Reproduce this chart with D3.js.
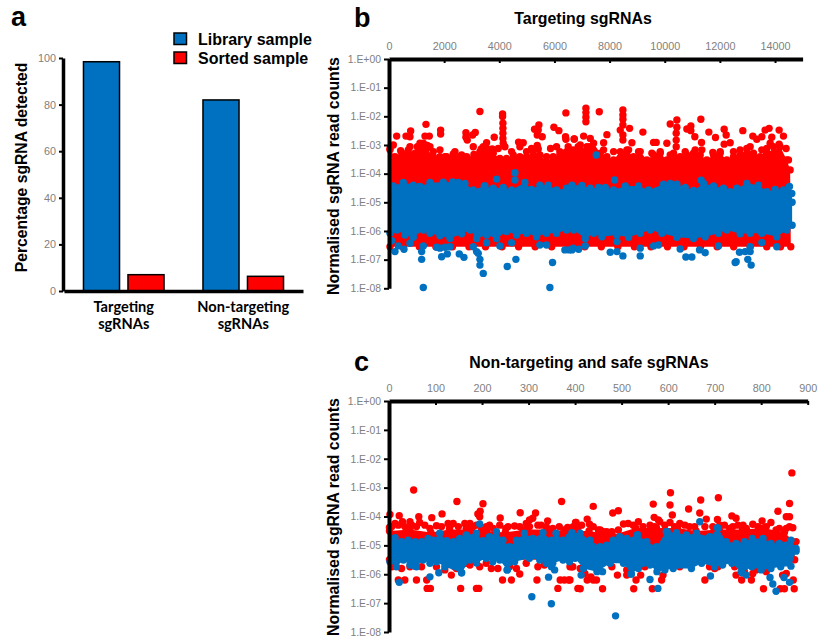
<!DOCTYPE html>
<html>
<head>
<meta charset="utf-8">
<script src="https://cdn.jsdelivr.net/npm/d3@7"></script>
<style>
	html, body { margin: 0; padding: 0; background: #fff; }
	svg { display: block; }
	text { font-family: "Liberation Sans", Arial, sans-serif; }
	.tick text { fill: #808080; }
</style>
</head>
<body>
<div id="chart"></div>
<script>
// panel a
var categories = ["Targeting sgRNAs", "Non-targeting sgRNAs"];
var seriesNames = ["Library sample", "Sorted sample"];
var libraryValues = [98.4, 82];
var sortedValues = [7, 6.3];
var percentTicks = [0, 20, 40, 60, 80, 100];

// panels b and c: every pair is [sgRNA index, log10 of normalised read count]
// the solid part of each cloud is kept as its upper and lower outline
var bRedTop = [[36,-3.17],[217,-3.41],[459,-3.29],[701,-3.17],[942,-3.29],[1123,-3.12],[1365,-3.12],[1607,-3.41],[1848,-3.41],[2090,-3.41],[2331,-3.31],[2573,-3.41],[2815,-3.41],[3056,-3.47],[3298,-3.23],[3539,-3.12],[3781,-3.29],[4023,-3.47],[4264,-3.47],[4506,-3.35],[4747,-3.41],[4989,-3.41],[5231,-3.23],[5472,-3.35],[5714,-3.58],[5955,-3.41],[6197,-3.35],[6439,-3.23],[6680,-3.17],[6937,-3.17],[7179,-3.06],[7420,-2.94],[7662,-3.29],[7903,-3.41],[8145,-3.52],[8387,-3.23],[8628,-3.17],[8870,-3.41],[9111,-3.23],[9353,-3.52],[9595,-3.35],[9836,-3.29],[10078,-3.52],[10319,-3.29],[10561,-3.41],[10803,-3.35],[11044,-3.29],[11286,-3.35],[11527,-3.52],[11769,-3.35],[12011,-3.29],[12252,-3.52],[12494,-3.41],[12735,-3.35],[12977,-3.12],[13219,-3.29],[13460,-3.41],[13702,-3.12],[13944,-3.29],[14185,-3.06],[14427,-3.52],[14548,-3.87]];
var bRedBottom = [[14572,-6.55],[14200,-6.55],[13700,-6.55],[13100,-6.55],[12500,-6.55],[11900,-6.55],[11300,-6.55],[10700,-6.55],[10100,-6.55],[9500,-6.55],[8900,-6.55],[8300,-6.55],[7700,-6.55],[7100,-6.55],[6500,-6.55],[5900,-6.55],[5300,-6.55],[4700,-6.55],[4100,-6.55],[3500,-6.55],[2900,-6.55],[2300,-6.55],[1700,-6.55],[1100,-6.55],[500,-6.55],[36,-6.55]];
var bRedSpots = [[3298,-1.83],[4119,-1.92],[4119,-2.01],[4131,-2.24],[4131,-2.42],[4131,-2.59],[4131,-2.77],[4143,-2.94],[6415,-1.88],[1341,-2.28],[278,-2.69],[785,-2.51],[616,-2.69],[761,-2.71],[1462,-2.69],[1305,-2.69],[1872,-2.48],[1872,-2.62],[2790,-2.57],[3129,-2.56],[3032,-2.65],[2790,-2.73],[2839,-2.83],[3817,-2.73],[5279,-2.45],[5436,-2.30],[5412,-2.48],[5376,-2.65],[5557,-2.71],[5980,-2.38],[6161,-2.5],[6402,-2.71],[6415,-2.8],[6716,-2.79],[3539,-2.92],[3346,-3.14],[3745,-3.14],[3080,-3.33],[4699,-2.9],[4868,-2.92],[5376,-3.02],[5412,-3.14],[5859,-3.12],[6076,-3.06],[761,-3.06],[36,-3.12],[157,-3.0],[423,-3.2],[1389,-3.02],[1244,-2.94],[1123,-2.94],[1486,-3.06],[7142,-1.72],[7142,-1.87],[7142,-2.03],[7142,-2.19],[7626,-1.84],[8483,-1.78],[8483,-1.95],[8483,-2.10],[8387,-2.48],[8725,-2.42],[8483,-2.30],[8483,-2.65],[8483,-2.83],[9208,-2.55],[7903,-2.64],[7058,-2.69],[6720,-2.79],[7299,-2.77],[7783,-2.92],[8809,-2.92],[9595,-2.91],[9691,-2.91],[10078,-2.94],[10199,-2.27],[10440,-2.13],[10440,-2.38],[10416,-2.59],[10416,-2.83],[10416,-3.06],[10803,-2.44],[10948,-2.34],[10948,-2.5],[11310,-2.1],[11092,-2.71],[11334,-2.91],[11600,-2.55],[11841,-2.74],[12156,-2.45],[12228,-2.65],[12156,-2.97],[12373,-2.92],[12832,-2.5],[13194,-2.69],[13339,-2.8],[13521,-2.71],[13641,-2.48],[13786,-2.42],[13883,-2.73],[14149,-2.48],[14306,-2.69],[14149,-2.97],[14402,-3.12],[13823,-2.94],[11745,-3.26],[12011,-3.23],
	[544,-3.31],[978,-3.35],[1027,-3.06],[1607,-3.23],[1848,-3.17],[2029,-3.41],[2392,-3.23],[2633,-3.35],[3056,-3.06],[3419,-3.06],[3636,-3.17],[3962,-3.12],[4204,-3.06],[4445,-3.23],[4747,-3.06],[4989,-3.23],[5170,-3.12],[5714,-3.41],[6197,-3.23],[6499,-3.06],[6861,-3.06],[6937,-3.0],[7299,-3.06],[7783,-3.17],[8145,-3.23],[8689,-3.17],[9051,-3.23],[9534,-3.29],[9836,-3.23],[10199,-3.35],[10742,-3.23],[11105,-3.17],[11346,-3.17],[12494,-3.23],[12735,-3.17],[13098,-3.06],[13521,-3.17],[13944,-3.06],[14125,-3.23],[14487,-3.52]];
var bBlueTop = [[97,-4.57],[157,-4.43],[519,-4.31],[882,-4.40],[1123,-4.45],[1486,-4.31],[1969,-4.30],[2307,-4.29],[2513,-4.31],[2754,-4.34],[3056,-4.57],[3455,-4.43],[3781,-4.51],[4143,-4.48],[4445,-4.57],[4929,-4.31],[5170,-4.55],[5472,-4.40],[5774,-4.40],[6076,-4.57],[6439,-4.51],[6635,-4.40],[6997,-4.41],[7299,-4.51],[7601,-4.48],[7843,-4.48],[8145,-4.57],[8568,-4.43],[9051,-4.43],[9413,-4.57],[9957,-4.37],[10199,-4.34],[10440,-4.37],[10742,-4.48],[11044,-4.59],[11407,-4.34],[11769,-4.43],[12131,-4.51],[12373,-4.63],[12615,-4.51],[12977,-4.34],[13400,-4.40],[13702,-4.63],[14004,-4.55],[14306,-4.57],[14523,-4.45],[14608,-4.69]];
var bBlueBottom = [[14620,-5.0],[14620,-5.8],[14427,-5.97],[14064,-6.2],[13521,-6.08],[13098,-6.08],[12735,-6.10],[12252,-5.97],[11950,-6.08],[11467,-6.2],[11044,-6.26],[10440,-6.22],[9897,-6.08],[9474,-5.97],[9111,-6.08],[8689,-6.22],[8266,-6.14],[7722,-6.2],[7420,-6.08],[7118,-6.26],[6695,-5.97],[6439,-5.97],[6076,-6.08],[5714,-6.08],[5352,-6.2],[4989,-6.08],[4627,-6.14],[4264,-6.02],[3902,-6.26],[3539,-6.14],[3177,-6.26],[2935,-5.97],[2633,-6.10],[2211,-6.26],[1848,-6.17],[1486,-6.08],[1244,-5.97],[882,-6.22],[580,-6.14],[278,-5.97],[36,-6.08]];
var bBlueSpots = [[97,-6.34],[217,-6.72],[544,-6.64],[761,-6.43],[338,-6.52],[1184,-6.72],[1244,-6.52],[1184,-6.99],[1909,-6.90],[2114,-6.80],[2029,-6.57],[1848,-6.60],[2549,-6.80],[2718,-6.92],[3056,-6.55],[3237,-6.78],[3298,-6.99],[3298,-7.19],[3419,-7.48],[3177,-6.72],[4288,-7.24],[4602,-6.99],[1244,-7.97],[5835,-7.97],[5931,-7.10],[6378,-6.66],[6535,-6.66],[6680,-6.60],[5714,-6.49],[5472,-6.49],[4023,-6.52],[4445,-6.41],[3539,-6.41],[2211,-6.55],[1727,-6.57],[4566,-3.97],[3902,-4.19],[4566,-4.22],[3479,-4.43],[8024,-6.74],[8266,-6.72],[8483,-6.87],[9111,-6.87],[9111,-6.6],[10561,-6.63],[10766,-6.91],[10984,-6.91],[11262,-6.66],[11467,-6.76],[12554,-7.10],[12590,-7.07],[12711,-6.74],[12917,-6.72],[13098,-6.55],[13098,-6.72],[13013,-6.99],[13134,-7.19],[14064,-6.55],[9595,-6.52],[9776,-6.49],[6877,-6.64],[6635,-6.66],[8266,-6.37],[7118,-6.52],[11950,-6.52],[13521,-6.40],[7517,-3.35],[8181,-4.22],[11322,-4.23]];

var cRedTop = [[1,-4.5],[45,-4.45],[90,-4.55],[130,-4.45],[175,-4.45],[210,-4.5],[250,-4.55],[295,-4.45],[340,-4.45],[385,-4.5],[430,-4.5],[480,-4.65],[530,-4.4],[575,-4.4],[620,-4.4],[660,-4.5],[710,-4.45],[760,-4.45],[805,-4.4],[850,-4.55],[872,-4.9]];
var cRedBottom = [[872,-5.5],[1,-5.5]];
var cRedSpots = [[53,-3.08],[146,-3.48],[202,-3.56],[2,-3.93],[22,-3.97],[64,-4.01],[92,-4.04],[114,-3.91],[195,-4.01],[196,-3.82],[191,-3.91],[239,-4.05],[282,-3.87],[315,-3.88],[45,-4.18],[29,-4.18],[13,-4.24],[66,-4.21],[102,-4.32],[138,-4.24],[163,-4.24],[174,-4.24],[188,-4.30],[209,-4.35],[224,-4.41],[251,-4.41],[270,-4.33],[295,-4.24],[302,-4.12],[309,-4.06],[327,-4.30],[341,-4.15],[366,-4.35],[384,-4.38],[401,-4.21],[371,-3.48],[1,-4.38],
	[20,-6.2],[34,-6.2],[59,-6.2],[81,-6.2],[82,-6.49],[89,-6.49],[154,-6.49],[188,-6.49],[193,-6.49],[134,-6.03],[145,-5.8],[165,-5.62],[220,-5.8],[234,-5.8],[244,-6.2],[263,-6.2],[274,-5.8],[281,-5.99],[318,-6.2],[320,-5.74],[363,-6.49],[368,-6.2],[377,-6.2],[386,-6.2],[389,-5.74],[406,-6.49],
	[866,-2.49],[605,-3.18],[670,-3.43],[708,-3.35],[568,-3.57],[604,-3.60],[861,-3.55],[439,-3.65],[481,-3.88],[493,-3.80],[668,-3.88],[644,-3.74],[609,-3.95],[570,-4.03],[579,-4.12],[426,-4.09],[836,-3.82],[737,-3.98],[746,-4.06],[854,-4.01],[861,-4.01],[682,-4.09],[706,-4.10],[402,-4.21],[431,-4.27],[450,-4.47],[461,-4.53],[479,-4.53],[504,-4.26],[514,-4.24],[536,-4.18],[561,-4.30],[582,-4.18],[604,-4.21],[625,-4.24],[646,-4.35],[721,-4.30],[761,-4.30],[782,-4.27],[802,-4.15],[821,-4.21],[868,-4.39],[854,-4.41],[832,-4.47],[875,-4.87],[696,-4.35],[739,-4.35],
	[869,-6.2],[871,-6.5],[850,-6.5],[841,-6.5],[805,-6.5],[779,-6.2],[758,-6.2],[746,-6.03],[679,-6.2],[589,-6.03],[586,-6.2],[566,-6.5],[526,-6.5],[531,-6.2],[541,-6.03],[511,-6.03],[491,-6.03],[459,-6.5],[446,-6.2],[426,-6.2],[434,-6.09],[411,-6.5],[389,-6.2],[393,-5.74],[846,-6.03],[782,-5.97],[625,-5.74],[700,-5.8],
	[6,-4.35],[20,-4.30],[34,-4.35],[49,-4.30],[59,-4.35],[77,-4.30],[88,-4.41],[113,-4.35],[127,-4.24],[131,-4.35],[149,-4.35],[166,-4.41],[181,-4.35],[199,-4.47],[216,-4.30],[238,-4.30],[256,-4.35],[281,-4.35],[288,-4.47],[302,-4.35],[320,-4.30],[338,-4.35],[352,-4.41],[376,-4.47],[391,-4.41],[406,-4.41],
	[396,-4.35],[414,-4.30],[439,-4.35],[454,-4.47],[468,-4.53],[493,-4.47],[525,-4.30],[546,-4.35],[571,-4.35],[593,-4.30],[614,-4.35],[636,-4.30],[657,-4.35],[679,-4.35],[711,-4.30],[732,-4.41],[750,-4.30],[768,-4.41],[793,-4.35],[811,-4.35],[839,-4.41],[861,-4.35],
	[6,-5.74],[27,-5.8],[45,-5.74],[70,-5.74],[102,-5.74],[120,-5.85],[141,-5.74],[174,-5.68],[195,-5.74],[209,-5.62],[259,-5.74],[295,-5.62],[334,-5.68],[395,-5.74],
	[411,-5.8],[421,-5.97],[439,-6.2],[479,-5.74],[511,-5.85],[550,-5.74],[625,-5.68],[689,-5.74],[707,-5.74],[743,-5.74],[764,-5.91],[789,-5.85],[811,-5.91],[854,-5.97]];
var cBlueTop = [[6,-4.93],[13,-4.73],[27,-4.87],[41,-4.82],[56,-4.87],[70,-4.87],[84,-4.76],[95,-4.82],[109,-4.58],[124,-4.84],[138,-4.87],[152,-4.76],[166,-4.64],[188,-4.58],[202,-4.84],[216,-4.70],[231,-4.53],[245,-4.82],[259,-5.05],[274,-4.82],[291,-4.58],[309,-4.76],[331,-4.56],[349,-4.82],[359,-4.58],[374,-4.82],[388,-4.70],[393,-4.56],[411,-4.58],[432,-4.82],[454,-5.05],[468,-4.99],[482,-4.82],[496,-4.70],[511,-4.76],[534,-4.64],[554,-4.87],[575,-5.05],[596,-4.53],[618,-4.56],[639,-4.64],[661,-4.58],[689,-4.70],[707,-4.41],[725,-4.87],[746,-4.93],[764,-4.87],[781,-4.76],[804,-4.76],[821,-4.93],[839,-4.93],[864,-4.82],[875,-5.11]];
var cBlueBottom = [[875,-5.2],[864,-5.72],[842,-5.74],[821,-5.8],[800,-5.85],[780,-5.74],[759,-5.95],[737,-5.62],[717,-5.68],[700,-5.74],[672,-5.62],[650,-5.8],[611,-5.8],[593,-5.85],[576,-5.91],[561,-5.68],[536,-5.8],[521,-5.99],[504,-5.62],[475,-5.62],[447,-5.91],[418,-5.8],[400,-5.45],[388,-5.57],[374,-5.51],[352,-5.62],[338,-5.62],[324,-5.51],[302,-5.45],[270,-5.57],[254,-5.85],[238,-5.51],[223,-5.57],[209,-5.45],[188,-5.6],[174,-5.51],[156,-5.95],[120,-5.74],[102,-5.57],[88,-5.62],[73,-5.51],[59,-5.74],[45,-5.68],[31,-5.51],[16,-5.74],[2,-5.57]];
var cBlueSpots = [[22,-6.28],[88,-6.09],[107,-5.95],[156,-5.95],[56,-5.72],[188,-5.6],[254,-5.85],[343,-6.1],[307,-6.78],[349,-7.02],[349,-5.74],[356,-5.85],[195,-4.26],[413,-6.03],[487,-7.44],[578,-6.49],[561,-6.18],[520,-5.99],[691,-6.06],[668,-4.18],[706,-4.39],[598,-4.53],[534,-4.63],[819,-6.11],[825,-6.34],[832,-6.59],[849,-6.11],[861,-6.28],[768,-6.03],[757,-5.91],[459,-5.91]];

var exponents = [0, -1, -2, -3, -4, -5, -6, -7, -8];
var bXTicks = [0, 2000, 4000, 6000, 8000, 10000, 12000, 14000];
var cXTicks = [0, 100, 200, 300, 400, 500, 600, 700, 800, 900];

var blue = "#0070c0", red = "#ff0000";
var svg = d3.select("#chart").append("svg").attr("width", 818).attr("height", 642);

function addText(str, x, y, size, anchor, rotate){
	var t = svg.append("text").text(str)
		.attr("font-size", size)
		.attr("font-weight", "bold")
		.attr("text-anchor", anchor || "start");
	if (rotate) t.attr("transform", "translate(" + x + "," + y + ") rotate(-90)");
	else t.attr("x", x).attr("y", y);
	return t;
}

function styleAxis(g, thick){
	g.select(".domain").attr("stroke", "#000").attr("stroke-width", thick);
	g.selectAll(".tick line").attr("stroke", "#000").attr("stroke-width", 2);
	g.selectAll(".tick text").attr("font-size", 10.8);
}

function drawBars(){
	var left = 64, right = 303, top = 58, bottom = 291;
	var y = d3.scaleLinear().domain([0, 100]).range([bottom, top]);
	var x0 = d3.scaleBand().domain(categories).range([left, right]);
	var x1 = d3.scaleBand().domain(seriesNames).range([0, x0.bandwidth()]).paddingInner(0.19).paddingOuter(0.4375);
	var values = [libraryValues, sortedValues];

	seriesNames.forEach(function(s, i){
		svg.append("g").selectAll("rect")
			.data(categories)
			.enter().append("rect")
			.attr("x", function(d){ return x0(d) + x1(s); })
			.attr("width", x1.bandwidth())
			.attr("y", function(d, j){ return y(values[i][j]); })
			.attr("height", function(d, j){ return bottom - y(values[i][j]); })
			.attr("fill", i == 0 ? blue : red)
			.attr("stroke", "#000")
			.attr("stroke-width", 1.5);
	});

	var yAxis = svg.append("g").attr("transform", "translate(" + (left - 1) + ",0)")
		.call(d3.axisLeft(y).tickValues(percentTicks).tickSize(4).tickSizeOuter(0));
	styleAxis(yAxis, 3.5);
	var xAxis = svg.append("g").attr("transform", "translate(0," + bottom + ")")
		.call(d3.axisBottom(x0).tickValues([]).tickSizeOuter(0));
	styleAxis(xAxis, 3.5);

	// two line category labels
	categories.forEach(function(c, i){
		var words = c.split(" ");
		words.forEach(function(w, k){
			addText(w, x0(c) + x0.bandwidth() / 2, 312 + k * 16.5, 14.6, "middle")
				.style("font-family", "Lato, 'Open Sans', sans-serif");
		});
	});

	addText("Percentage sgRNA detected", 26.5, 167.5, 15.7, "middle", true);

	// legend
	seriesNames.forEach(function(s, i){
		svg.append("rect")
			.attr("x", 174).attr("y", 33 + i * 19)
			.attr("width", 12.5).attr("height", 11.5)
			.attr("fill", i == 0 ? blue : red)
			.attr("stroke", "#000").attr("stroke-width", 1.5);
		addText(s, 198, 45 + i * 18.7, 16, "start");
	});
}

function drawScatter(p){
	var x = d3.scaleLinear().domain(p.xDomain).range([p.left, p.right]);
	var y = d3.scaleLinear().domain([-8, 0]).range([p.bottom, p.top]);
	var line = d3.line().x(function(d){ return x(d[0]); }).y(function(d){ return y(d[1]); });

	function cloud(top, low, spots, colour){
		var g = svg.append("g");
		g.append("path")
			.attr("d", line(top.concat(low)) + "Z")
			.attr("fill", colour);
		g.selectAll("circle")
			.data(top.concat(low, spots))
			.enter().append("circle")
			.attr("cx", function(d){ return x(d[0]); })
			.attr("cy", function(d){ return y(d[1]); })
			.attr("r", 3.7)
			.attr("fill", colour);
	}
	cloud(p.redTop, p.redBottom, p.redSpots, red);
	cloud(p.blueTop, p.blueBottom, p.blueSpots, blue);

	var xAxis = svg.append("g").attr("transform", "translate(0," + p.top + ")")
		.call(d3.axisTop(x).tickValues(p.xTicks).tickSize(-4).tickSizeOuter(0).tickPadding(9).tickFormat(d3.format("d")));
	styleAxis(xAxis, 4);
	var yAxis = svg.append("g").attr("transform", "translate(" + p.left + ",0)")
		.call(d3.axisLeft(y).tickValues(exponents).tickSize(5).tickSizeOuter(0).tickFormat(function(d){
			return "1.E" + (d < 0 ? "-" : "+") + "0" + Math.abs(d);
		}));
	styleAxis(yAxis, 4);
	yAxis.selectAll(".tick text").attr("font-size", 10.4);

	addText(p.title, p.titleX, p.titleY, 15.9, "middle");
	addText("Normalised sgRNA read counts", 339, p.labelY, 15.9, "middle", true);
	addText(p.letter, 354, p.letterY, 27, "start");
}

drawBars();
addText("a", 11, 26, 27, "start");

drawScatter({ letter: "b", title: "Targeting sgRNAs", titleX: 583, titleY: 24, letterY: 27,
	left: 389, right: 802.6, top: 59, bottom: 288.3, labelY: 176,
	xDomain: [0, 15000], xTicks: bXTicks,
	redTop: bRedTop, redBottom: bRedBottom, redSpots: bRedSpots,
	blueTop: bBlueTop, blueBottom: bBlueBottom, blueSpots: bBlueSpots });

drawScatter({ letter: "c", title: "Non-targeting and safe sgRNAs", titleX: 589, titleY: 367.5, letterY: 371,
	left: 389, right: 807.7, top: 401, bottom: 632, labelY: 517,
	xDomain: [0, 900], xTicks: cXTicks,
	redTop: cRedTop, redBottom: cRedBottom, redSpots: cRedSpots,
	blueTop: cBlueTop, blueBottom: cBlueBottom, blueSpots: cBlueSpots });
</script>
</body>
</html>
